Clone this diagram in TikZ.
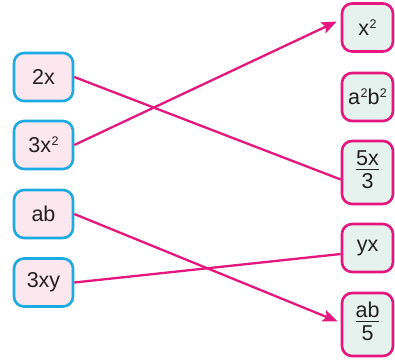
\documentclass[tikz,border=0pt]{standalone}
\usepackage{fontspec}
\setmainfont{Liberation Sans}
\usetikzlibrary{arrows.meta}
\definecolor{boxcyan}{HTML}{1BAAE2}
\definecolor{fillpink}{HTML}{FCE7EE}
\definecolor{linemag}{HTML}{E5167F}
\definecolor{fillmint}{HTML}{E5F2EE}
\definecolor{inkdark}{HTML}{231F20}
\newcommand\upfrac[2]{\begin{tabular}{@{}c@{}}#1\\[-4pt]\noalign{\hrule height 1.8pt}\rule{0pt}{18pt}#2\end{tabular}}
\newcommand\sq{\kern0.5pt\raisebox{7pt}{\fontsize{12.5}{12.5}\selectfont 2}}
\begin{document}
\begin{tikzpicture}[x=1pt,y=-1pt,
  every node/.style={text=inkdark, font=\fontsize{21.5}{23}\selectfont},
  leftbox/.style={draw=boxcyan, fill=fillpink, line width=2.6pt, rounded corners=10pt,
    minimum width=59pt, minimum height=48pt, inner sep=0pt},
  rightbox/.style={draw=linemag, fill=fillmint, line width=2.6pt, rounded corners=10pt,
    minimum width=51pt, minimum height=48pt, inner sep=0pt},
  tallbox/.style={rightbox, minimum height=63pt},
  link/.style={draw=linemag, line width=2.3pt},
  arrowlink/.style={link, -{Stealth[length=15pt, width=12pt, inset=3pt]}}]
\useasboundingbox (0,0) rectangle (395,361);
% left column
\node[leftbox] (a1) at (43.5,77) {2x};
\node[leftbox] (a2) at (43.5,145) {3x\sq};
\node[leftbox] (a3) at (43.5,214) {ab};
\node[leftbox] (a4) at (43.5,282.5) {3xy};
% right column
\node[rightbox] (b1) at (367.5,27.5) {x\sq};
\node[rightbox] (b2) at (367.5,97) {a\sq b\sq};
\node[tallbox] (b3) at (367.5,172.5) {\upfrac{5x}{3}};
\node[rightbox] (b4) at (367.5,248) {yx};
\node[tallbox] (b5) at (367.5,324.5) {\upfrac{ab}{5}};
% connectors
\draw[link] (a1.east) -- ([yshift=-7pt]b3.west);
\draw[arrowlink] (a2.east) -- ([xshift=-4pt,yshift=6pt]b1.west);
\draw[link] (a4.east) -- ([yshift=-6pt]b4.west);
\draw[arrowlink] (a3.east) -- ([xshift=-3pt,yshift=3pt]b5.west);
\end{tikzpicture}
\end{document}
